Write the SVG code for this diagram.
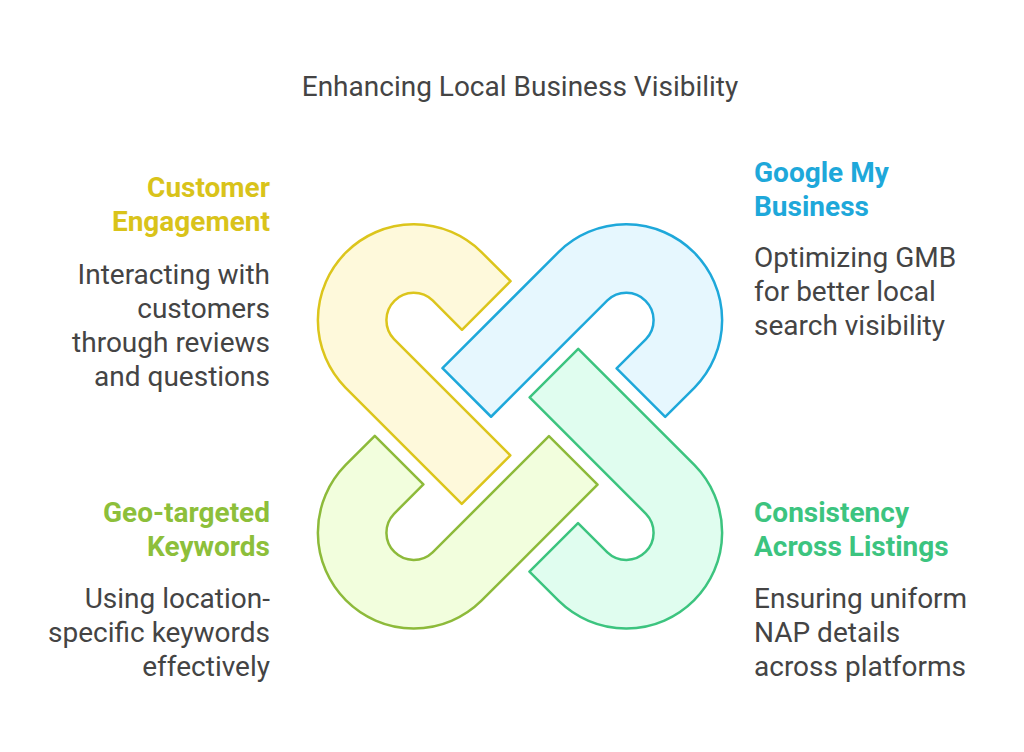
<svg xmlns="http://www.w3.org/2000/svg" xmlns:xlink="http://www.w3.org/1999/xlink" width="1024" height="752" viewBox="0 0 1024 752">
  <style>
    text { font-family: Roboto, "Liberation Sans", sans-serif; }
    .title { font-size: 28px; fill: #444444; text-anchor: middle; }
    .head { font-size: 28px; font-weight: bold; }
    .body { font-size: 28px; fill: #444444; }
    .left { text-anchor: end; }
    .right { text-anchor: start; }
    .link { stroke-width: 2.5; stroke-linejoin: round; }
  </style>
  <defs>
    <path id="hook" d="M -38.79 -174.55 L -9.44 -145.20 L -58.02 -96.62 L -87.37 -125.97 A 27.3 27.3 0 0 0 -125.97 -87.37 L -9.65 28.95 L -58.23 77.53 L -174.55 -38.79 A 96 96 0 0 1 -38.79 -174.55 Z"/>
  </defs>
  <rect width="1024" height="752" fill="#ffffff"/>
  <text class="title" x="520" y="96">Enhancing Local Business Visibility</text>

  <g id="customer-engagement">
    <use xlink:href="#hook" href="#hook" class="link" transform="translate(520,426.4)" fill="#FEF9DB" stroke="#DCC51C"/>
    <text class="head left" x="270" y="197" fill="#D9C31A">Customer</text>
    <text class="head left" x="270" y="231" fill="#D9C31A">Engagement</text>
    <text class="body left" x="270" y="284">Interacting with</text>
    <text class="body left" x="270" y="318">customers</text>
    <text class="body left" x="270" y="352">through reviews</text>
    <text class="body left" x="270" y="386">and questions</text>
  </g>

  <g id="google-my-business">
    <use xlink:href="#hook" href="#hook" class="link" transform="translate(520,426.4) rotate(90)" fill="#E6F7FE" stroke="#1EA8DA"/>
    <text class="head right" x="754" y="182" fill="#1EA8DA">Google My</text>
    <text class="head right" x="754" y="216" fill="#1EA8DA">Business</text>
    <text class="body right" x="754" y="267">Optimizing GMB</text>
    <text class="body right" x="754" y="301">for better local</text>
    <text class="body right" x="754" y="335">search visibility</text>
  </g>

  <g id="consistency-across-listings">
    <use xlink:href="#hook" href="#hook" class="link" transform="translate(520,426.4) rotate(180)" fill="#E0FDEF" stroke="#3CC47F"/>
    <text class="head right" x="754" y="522" fill="#3CC47F">Consistency</text>
    <text class="head right" x="754" y="556" fill="#3CC47F">Across Listings</text>
    <text class="body right" x="754" y="608">Ensuring uniform</text>
    <text class="body right" x="754" y="642">NAP details</text>
    <text class="body right" x="754" y="676">across platforms</text>
  </g>

  <g id="geo-targeted-keywords">
    <use xlink:href="#hook" href="#hook" class="link" transform="translate(520,426.4) rotate(270)" fill="#F2FEDD" stroke="#8DBA3A"/>
    <text class="head left" x="270" y="522" fill="#8DBF3A">Geo-targeted</text>
    <text class="head left" x="270" y="556" fill="#8DBF3A">Keywords</text>
    <text class="body left" x="270" y="608">Using location-</text>
    <text class="body left" x="270" y="642">specific keywords</text>
    <text class="body left" x="270" y="676">effectively</text>
  </g>

  <g id="connectors"></g>
</svg>
